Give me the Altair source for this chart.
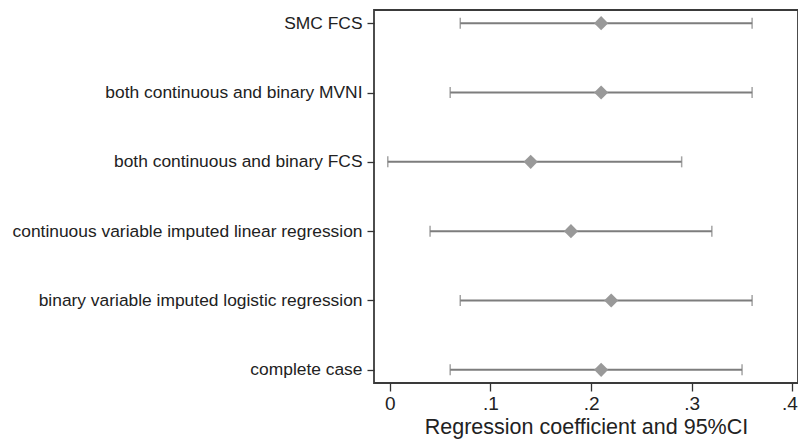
import altair as alt
import pandas as pd

methods = [
    "SMC FCS",
    "both continuous and binary MVNI",
    "both continuous and binary FCS",
    "continuous variable imputed linear regression",
    "binary variable imputed logistic regression",
    "complete case",
]
estimate = [0.21, 0.21, 0.14, 0.18, 0.22, 0.21]
lower = [0.07, 0.06, -0.002, 0.04, 0.07, 0.06]
upper = [0.36, 0.36, 0.29, 0.32, 0.36, 0.35]

df = pd.DataFrame({"method": methods, "est": estimate, "lo": lower, "hi": upper})

line_col = "#7d7d7d"
pt_col = "#999999"
font = "Liberation Sans"

y = alt.Y("method:N", sort=methods,
          scale=alt.Scale(type="point", padding=0.19),
          axis=alt.Axis(title=None, labelFontSize=17.4, labelColor="#222222",
                        labelFont=font, domain=False, tickColor="#333333", labelLimit=0,
                        tickSize=7, tickWidth=1.3, labelPadding=5, grid=False))
xscale = alt.Scale(domain=[-0.0157, 0.4056], nice=False, zero=False)
xaxis = alt.Axis(title="Regression coefficient and 95%CI", values=[0, 0.1, 0.2, 0.3, 0.4],
                 labelExpr="datum.value == 0 ? '0' : replace(format(datum.value, '.1f'), '0.', '.')",
                 labelOffset={"condition": {"test": "datum.value > 0.35", "value": -3}, "value": 0},
                 labelFontSize=19, labelFont=font, labelColor="#222222",
                 titleFont=font, titleFontSize=21.5, titleFontWeight="normal", titleColor="#222222",
                 titlePadding=3, domain=False, tickColor="#333333", tickSize=8, tickWidth=1.3,
                 labelPadding=3, grid=False)

base = alt.Chart(df)
rules = base.mark_rule(color=line_col, strokeWidth=2).encode(
    x=alt.X("lo:Q", scale=xscale, axis=xaxis), x2="hi:Q", y=y)
cap_lo = base.mark_tick(color=line_col, thickness=1.5, size=11).encode(x=alt.X("lo:Q"), y=y)
cap_hi = base.mark_tick(color=line_col, thickness=1.5, size=11).encode(x=alt.X("hi:Q"), y=y)
pts = base.mark_point(shape="diamond", filled=True, color=pt_col, size=200, opacity=1).encode(
    x=alt.X("est:Q"), y=y)

chart = alt.layer(rules, cap_lo, cap_hi, pts).properties(
    width=424, height=373,
    autosize=alt.AutoSizeParams(type="none"),
    padding={"left": 366, "top": 2, "right": 0, "bottom": 58},
    background="white",
).configure_view(stroke="#3a3a3a", strokeWidth=1.8)

chart.save("out.html", embed_options={"renderer": "svg", "actions": False})
